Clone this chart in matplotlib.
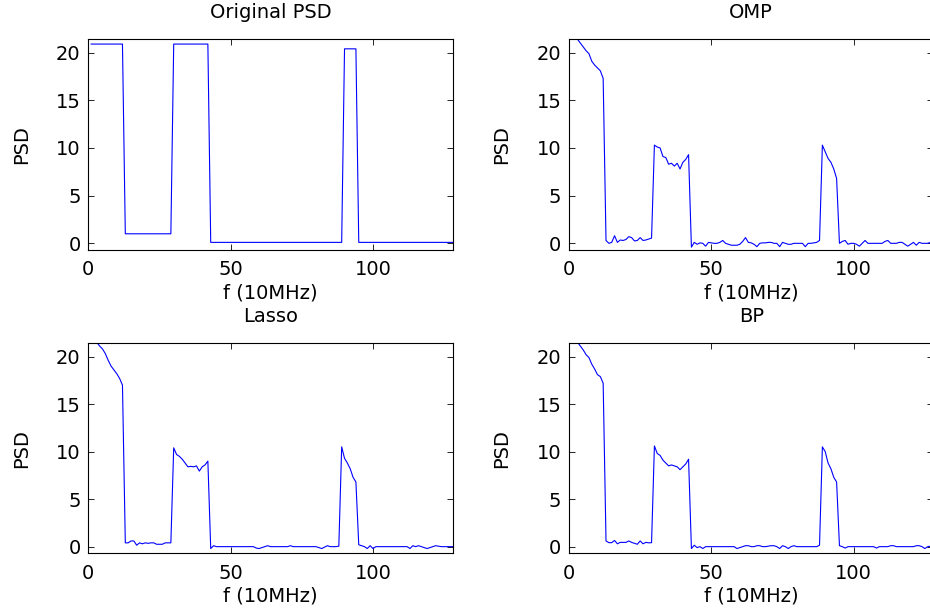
import matplotlib
matplotlib.use("Agg")
import matplotlib.pyplot as plt
import numpy as np

plt.rcParams['font.family'] = ['DejaVu Sans']

freq = list(range(1, 129))

original = ([20.9] * 12 + [1.0] * 17 + [20.9] * 13 + [0.1] * 47 + [20.4] * 5 + [0.1] * 34)

omp = [22.3, 21.9, 21.4, 21.0, 20.6, 20.2, 19.9, 19.1, 18.7, 18.4, 18.1, 17.3,
       0.3, 0.0, 0.1, 0.8, 0.1, 0.35, 0.3, 0.4, 0.7, 0.6, 0.25, 0.3, 0.6, 0.3, 0.35, 0.45, 0.55,
       10.3, 10.1, 10.0, 9.1, 9.0, 8.3, 8.4, 8.1, 8.4, 7.8, 8.5, 8.8, 9.3,
       -0.4, 0.1, -0.1, 0.05, 0.0, -0.3, 0.1, 0.05, 0.0, 0.0, 0.1, 0.3, 0.0, -0.1, -0.2, -0.2,
       -0.2, -0.1, 0.2, 0.6, 0.1, 0.05, -0.1, -0.35, 0.0, 0.05, 0.05, 0.1, 0.1, 0.0, 0.0, -0.35,
       0.1, 0.0, -0.1, -0.1, 0.0, 0.0, 0.0, 0.0, -0.35, 0.0, 0.0, 0.05, 0.1, 0.3,
       10.3, 9.6, 8.9, 8.5, 7.8, 6.8,
       0.0, 0.2, 0.3, -0.1, 0.0, 0.0, -0.1, -0.3, 0.0, 0.3, 0.0, 0.0, 0.0, 0.0, 0.0, 0.0, 0.2,
       0.3, 0.0, 0.0, 0.0, 0.1, 0.1, -0.1, -0.3, -0.1, 0.1, -0.2, 0.1, 0.0, 0.0, 0.0, 0.1, 0.1]

lasso = [22.3, 21.9, 21.5, 21.1, 20.8, 20.3, 19.6, 19.0, 18.6, 18.2, 17.7, 17.0,
         0.4, 0.4, 0.6, 0.6, 0.15, 0.4, 0.3, 0.4, 0.35, 0.4, 0.4, 0.25, 0.25, 0.25, 0.4, 0.4, 0.4,
         10.4, 9.7, 9.5, 9.2, 8.8, 8.4, 8.45, 8.4, 8.5, 7.95, 8.4, 8.6, 9.0,
         -0.2, 0.1, 0.0, 0.0, 0.0, 0.0, 0.0, 0.0, 0.0, 0.0, 0.0, 0.0, 0.0, 0.0, 0.0, 0.0,
         -0.15, -0.2, -0.1, 0.0, 0.1, 0.0, 0.0, 0.0, 0.0, 0.0, 0.0, 0.0, 0.1, 0.0, 0.0, 0.0,
         0.0, 0.0, 0.0, 0.0, 0.0, 0.0, -0.1, -0.2, -0.05, 0.1, 0.0, 0.0, 0.0, 0.05,
         10.5, 9.3, 8.8, 8.2, 7.3, 6.8,
         0.2, 0.1, 0.0, -0.2, 0.1, -0.2, 0.0, 0.0, 0.0, 0.0, 0.0, 0.0, 0.0, 0.0, 0.0, 0.0, 0.0,
         0.0, -0.2, 0.1, 0.0, 0.1, 0.0, -0.1, -0.2, -0.1, 0.0, 0.1, 0.05, 0.0, 0.0, 0.0, 0.0, 0.0]

bp = [22.4, 21.9, 21.5, 21.1, 20.7, 20.2, 19.9, 19.2, 18.7, 18.1, 17.9, 17.2,
      0.6, 0.42, 0.42, 0.65, 0.3, 0.45, 0.45, 0.45, 0.6, 0.45, 0.35, 0.25, 0.6, 0.3, 0.45, 0.4, 0.42,
      10.6, 9.8, 9.6, 9.1, 8.8, 8.5, 8.6, 8.5, 8.4, 8.1, 8.4, 8.7, 9.2,
      -0.2, 0.15, -0.1, 0.0, -0.2, 0.0, 0.0, 0.0, 0.0, 0.0, 0.0, 0.0, 0.0, 0.0, 0.0, 0.0,
      -0.2, -0.1, 0.0, 0.1, 0.1, 0.0, 0.0, 0.1, 0.1, 0.0, 0.0, 0.05, 0.1, 0.1, 0.0, -0.2,
      0.1, 0.0, -0.2, 0.0, 0.1, 0.0, 0.0, 0.0, 0.0, 0.0, 0.0, 0.0, 0.0, 0.15,
      10.5, 10.0, 8.8, 8.2, 7.3, 6.8,
      0.1, 0.0, -0.15, 0.0, 0.0, 0.0, 0.0, 0.0, 0.0, 0.0, 0.0, 0.0, 0.0, -0.15, 0.0, 0.0, 0.0,
      0.0, 0.1, 0.1, 0.0, 0.0, 0.0, 0.0, 0.0, 0.0, 0.0, 0.1, 0.1, 0.0, -0.2, 0.0, 0.05, 0.0]

titles = ['Original PSD', 'OMP', 'Lasso', 'BP']
series = [original, omp, lasso, bp]
xticks = [0, 50, 100]
yticks = [0, 5, 10, 15, 20]
xlabel = 'f (10MHz)'
ylabel = 'PSD'

W, H = 930, 610
fig = plt.figure(figsize=(W / 100, H / 100), dpi=100)

# axes boxes in pixels: left, top, width, height
boxes = [(88.3, 39.3, 364.4, 210.7), (569.0, 39.3, 364.4, 210.7),
         (88.3, 343.3, 364.4, 210.0), (569.0, 343.3, 364.4, 210.0)]

fs = 14
for box, title, vals in zip(boxes, titles, series):
    l, t, w, h = box
    ax = fig.add_axes([l / W, 1 - (t + h) / H, w / W, h / H])
    ax.plot(freq, vals, color=(0, 0, 1), lw=0.8)
    ax.set_xlim(0, 128)
    ax.set_ylim(-0.7, 21.4)
    ax.set_xticks(xticks)
    ax.set_yticks(yticks)
    ax.tick_params(direction='in', top=True, right=True, length=4, width=0.6,
                   labelsize=fs, colors='black')
    ax.tick_params(axis='x', pad=7.5)
    ax.tick_params(axis='y', pad=5.5)
    for s in ax.spines.values():
        s.set_linewidth(0.8)
        s.set_color('black')
    ax.set_title(title, fontsize=fs, pad=15)
    ax.set_xlabel(xlabel, fontsize=fs, labelpad=3)
    ax.set_ylabel(ylabel, fontsize=fs, labelpad=18)

fig.savefig('out.png', dpi=100)
